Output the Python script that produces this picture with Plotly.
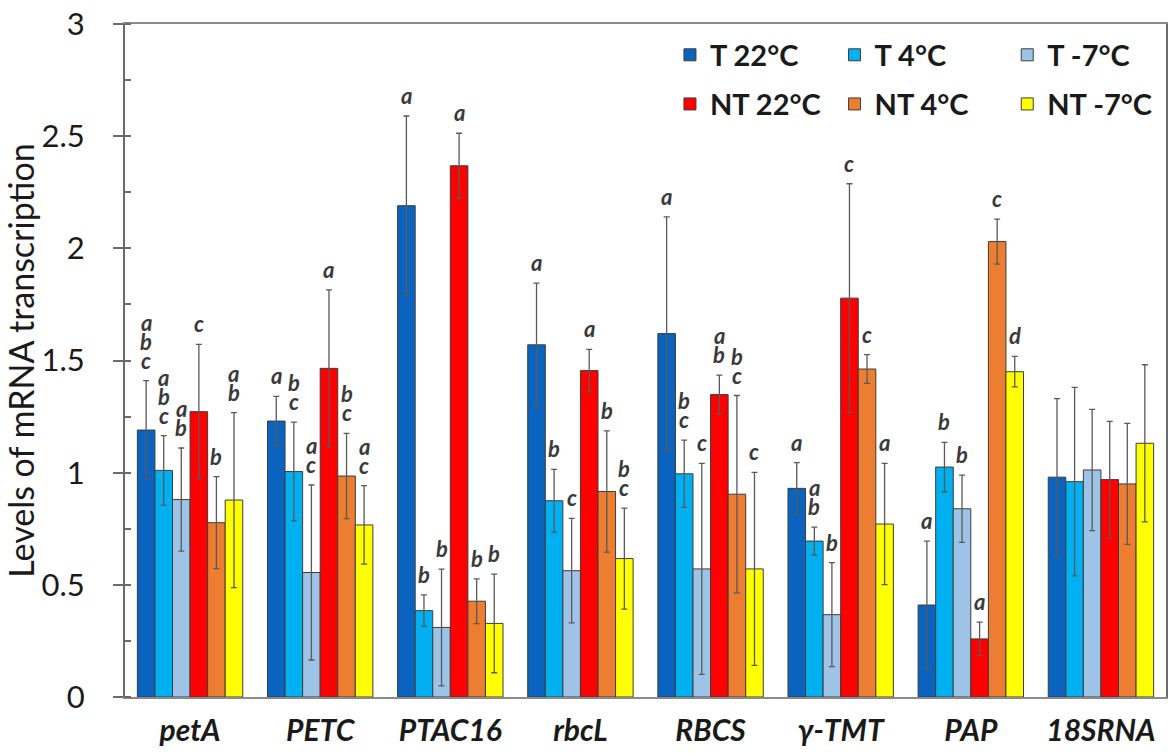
import plotly.graph_objects as go

genes = ["petA", "PETC", "PTAC16", "rbcL", "RBCS", "γ-TMT", "PAP", "18SRNA"]

series_names = ["T 22°C", "T 4°C", "T -7°C", "NT 22°C", "NT 4°C", "NT -7°C"]

t22 = [1.19, 1.23, 2.19, 1.57, 1.62, 0.93, 0.41, 0.98]
t22_err = [0.22, 0.11, 0.40, 0.275, 0.52, 0.115, 0.285, 0.35]
t4 = [1.01, 1.005, 0.385, 0.875, 0.995, 0.695, 1.025, 0.96]
t4_err = [0.155, 0.22, 0.07, 0.14, 0.15, 0.062, 0.11, 0.42]
tm7 = [0.88, 0.555, 0.31, 0.563, 0.571, 0.367, 0.839, 1.012]
tm7_err = [0.23, 0.39, 0.26, 0.233, 0.47, 0.232, 0.15, 0.27]
nt22 = [1.272, 1.465, 2.368, 1.455, 1.348, 1.778, 0.259, 0.969]
nt22_err = [0.30, 0.35, 0.145, 0.095, 0.087, 0.51, 0.075, 0.26]
nt4 = [0.777, 0.985, 0.427, 0.916, 0.904, 1.462, 2.03, 0.95]
nt4_err = [0.205, 0.19, 0.10, 0.27, 0.44, 0.064, 0.10, 0.27]
ntm7 = [0.878, 0.767, 0.328, 0.617, 0.571, 0.771, 1.45, 1.131]
ntm7_err = [0.39, 0.175, 0.22, 0.225, 0.43, 0.27, 0.068, 0.35]

# significance letters, one string per bar, read top-down
t22_sig = ["abc", "a", "a", "a", "a", "a", "a", ""]
t4_sig = ["abc", "bc", "b", "b", "bc", "ab", "b", ""]
tm7_sig = ["ab", "ac", "b", "c", "c", "b", "b", ""]
nt22_sig = ["c", "a", "a", "a", "ab", "c", "a", ""]
nt4_sig = ["b", "bc", "b", "b", "bc", "c", "c", ""]
ntm7_sig = ["ab", "ac", "b", "bc", "c", "a", "d", ""]

values = [t22, t4, tm7, nt22, nt4, ntm7]
errors = [t22_err, t4_err, tm7_err, nt22_err, nt4_err, ntm7_err]
letters = [t22_sig, t4_sig, tm7_sig, nt22_sig, nt4_sig, ntm7_sig]
colors = ["#0A63BE", "#00B0F0", "#9DC3E6", "#FF0000", "#ED7D31", "#FFFF00"]

BARGAP = 0.19
n_series = len(values)
bar_w = (1 - BARGAP) / n_series
xs = list(range(len(genes)))

# legend placement: three columns, two rows
legend_cols = [0.5235, 0.6816, 0.8475]
legend_rows = [0.954, 0.881]

fig = go.Figure()
for j in range(n_series):
    lname = "legend" if j == 0 else f"legend{j + 1}"
    fig.add_trace(go.Bar(
        x=xs, y=values[j], name=series_names[j],
        marker=dict(color=colors[j], line=dict(color="#3c3c3c", width=1)),
        error_y=dict(type="data", array=errors[j], color="#5a5a5a",
                     thickness=1.3, width=3),
        legend=lname,
    ))

legend_layouts = {}
for j in range(n_series):
    key = "legend" if j == 0 else f"legend{j + 1}"
    legend_layouts[key] = dict(
        x=legend_cols[j % 3], y=legend_rows[j // 3],
        xanchor="left", yanchor="middle",
        bgcolor="rgba(0,0,0,0)",
        font=dict(family="Lato", size=29, color="#1a1a1a", weight="bold"),
        itemclick=False,
    )

# letter annotations above each error bar
annotations = []
for j in range(n_series):
    offset = -(1 - BARGAP) / 2 + bar_w * (j + 0.5)
    for i in xs:
        txt = letters[j][i]
        top = values[j][i] + errors[j][i]
        for k, ch in enumerate(reversed(txt)):
            annotations.append(dict(
                x=i + offset, y=top, xref="x", yref="y",
                text=f"<b><i>{ch}</i></b>", showarrow=False,
                yanchor="bottom", xanchor="center", height=19,
                yshift=9 + 19 * k,
                font=dict(family="Lato", size=22, color="#3a3a3a"),
            ))

fig.update_layout(
    width=1171, height=753,
    margin=dict(l=125, r=3, t=24, b=56),
    paper_bgcolor="white", plot_bgcolor="white",
    barmode="group", bargap=BARGAP, bargroupgap=0,
    showlegend=True,
    annotations=annotations,
    **legend_layouts,
)

fig.update_xaxes(
    range=[-0.5, len(genes) - 0.5],
    tickmode="array", tickvals=xs, ticktext=[f"<b><i>{g}</i></b>" for g in genes],
    tickfont=dict(family="Lato", size=30, color="#1a1a1a"),
    showline=True, linecolor="#8a8a8a", linewidth=1.5, mirror=True,
    ticks="", showgrid=False, zeroline=False,
    ticklabelstandoff=6,
)

fig.update_yaxes(
    range=[0, 3], dtick=0.5, tick0=0,
    ticks="outside", ticklen=10, tickcolor="#6a6a6a", tickwidth=1.5,
    minor=dict(dtick=0.25, ticks="inside", ticklen=6, tickcolor="#6a6a6a", tickwidth=1.5),
    tickfont=dict(family="Lato", size=31, color="#1a1a1a"),
    showline=True, linecolor="#6a6a6a", linewidth=2, mirror=True,
    showgrid=False, zeroline=False,
    ticklabelstandoff=22,
    title=dict(text="Levels of mRNA transcription",
               font=dict(family="Lato", size=34, color="#1a1a1a"),
               standoff=6),
)

fig.write_html("out.html")
